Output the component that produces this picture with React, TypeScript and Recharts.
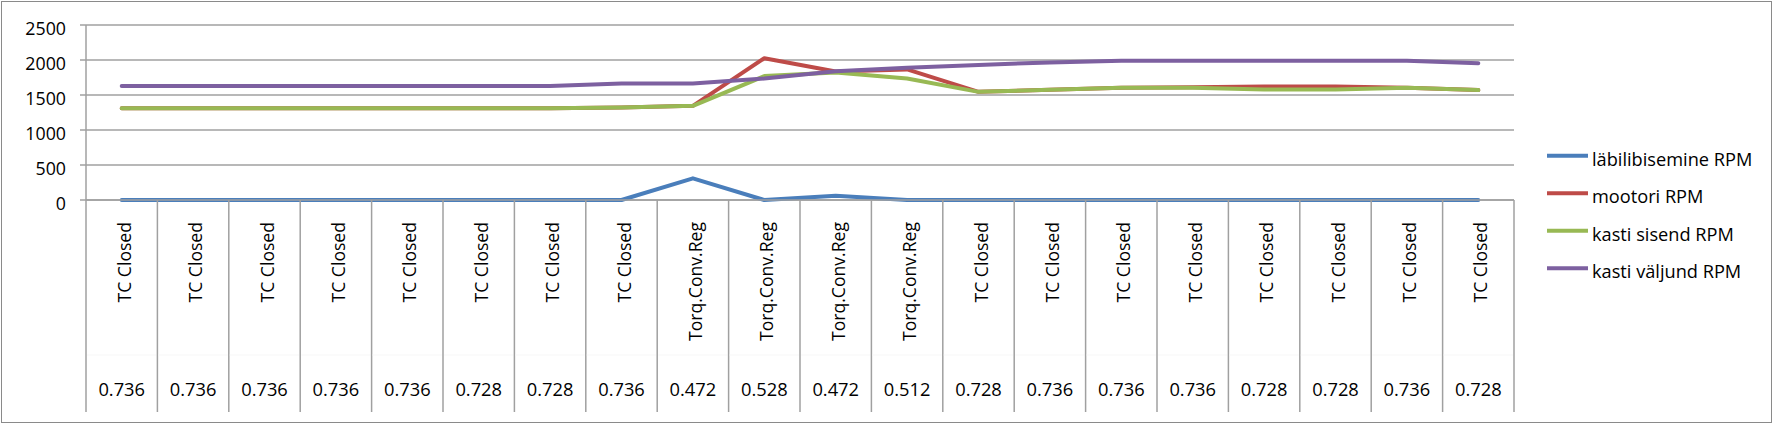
import React from 'react';
import { LineChart, Line, XAxis, YAxis, CartesianGrid, Legend } from 'recharts';

const indices = [0, 1, 2, 3, 4, 5, 6, 7, 8, 9, 10, 11, 12, 13, 14, 15, 16, 17, 18, 19];
const modeLabels = [
  'TC Closed', 'TC Closed', 'TC Closed', 'TC Closed', 'TC Closed', 'TC Closed', 'TC Closed', 'TC Closed',
  'Torq.Conv.Reg', 'Torq.Conv.Reg', 'Torq.Conv.Reg', 'Torq.Conv.Reg',
  'TC Closed', 'TC Closed', 'TC Closed', 'TC Closed', 'TC Closed', 'TC Closed', 'TC Closed', 'TC Closed',
];
const ratioLabels = [
  '0.736', '0.736', '0.736', '0.736', '0.736', '0.728', '0.728', '0.736', '0.472', '0.528',
  '0.472', '0.512', '0.728', '0.736', '0.736', '0.736', '0.728', '0.728', '0.736', '0.728',
];
const labiRpm = [0, 0, 0, 0, 0, 0, 0, 0, 310, 0, 60, 0, 0, 0, 0, 0, 0, 0, 0, 0];
const mootoriRpm = [1310, 1310, 1310, 1310, 1310, 1310, 1310, 1320, 1345, 2025, 1835, 1865, 1545, 1575, 1605, 1610, 1620, 1620, 1605, 1570];
const kastiSisendRpm = [1310, 1310, 1310, 1310, 1310, 1310, 1310, 1320, 1345, 1770, 1820, 1735, 1545, 1575, 1605, 1605, 1580, 1580, 1605, 1570];
const kastiValjundRpm = [1630, 1630, 1630, 1630, 1630, 1630, 1630, 1665, 1665, 1735, 1840, 1890, 1930, 1965, 1990, 1990, 1990, 1990, 1990, 1955];
const yTicks = [0, 500, 1000, 1500, 2000, 2500];
const seriesKeys = ['labi', 'mootori', 'sisend', 'valjund'];
const seriesNames = ['läbilibisemine RPM', 'mootori RPM', 'kasti sisend RPM', 'kasti väljund RPM'];
const seriesColors = ['#4a7ebb', '#be4b48', '#98b954', '#7d60a0'];

const data = indices.map((i) => ({
  idx: i,
  labi: labiRpm[i],
  mootori: mootoriRpm[i],
  sisend: kastiSisendRpm[i],
  valjund: kastiValjundRpm[i],
}));

const W = 1776;
const H = 425;
const PLOT_LEFT = 86;
const PLOT_RIGHT = 1514;
const PLOT_TOP = 25;
const PLOT_BOTTOM = 200;
const BAND = (PLOT_RIGHT - PLOT_LEFT) / indices.length;
const X_AXIS_H = 215;
const LEGEND_W = 230;
const GRID = '#a0a0a0';
const FONT = "'Open Sans', 'Noto Sans', sans-serif";

const XTick = (props: any) => {
  const { x, y, payload } = props;
  const i = Number(payload.value);
  const half = BAND / 2;
  return (
    <g>
      <line x1={x - half} x2={x - half} y1={y} y2={y + 212} stroke={GRID} strokeWidth={1.5} />
      {i === indices.length - 1 && (
        <line x1={x + half} x2={x + half} y1={y} y2={y + 212} stroke={GRID} strokeWidth={1.5} />
      )}
      <line x1={x - half + 1} x2={x + half - 1} y1={y + 155} y2={y + 155} stroke="#f7f7f7" strokeWidth={1} />
      <text
        transform={`translate(${x + 9},${y + 22}) rotate(-90)`}
        textAnchor="end"
        fontSize={17.6}
        fontFamily={FONT}
        fill="#000"
      >
        {modeLabels[i]}
      </text>
      <text x={x} y={y + 196} textAnchor="middle" fontSize={18.3} fontFamily={FONT} fill="#000">
        {ratioLabels[i]}
      </text>
    </g>
  );
};

const YTick = (props: any) => {
  const { x, y, payload } = props;
  return (
    <text x={x} y={y + 10} textAnchor="end" fontSize={17.8} fontFamily={FONT} fill="#000">
      {payload.value}
    </text>
  );
};

const LegendContent = () => (
  <svg width={LEGEND_W} height={150}>
    {seriesNames.map((name, k) => (
      <g key={name}>
        <line x1={7} x2={48} y1={15.7 + k * 37.5} y2={15.7 + k * 37.5} stroke={seriesColors[k]} strokeWidth={4} />
        <text x={52} y={25.7 + k * 37.5} fontSize={18.2} fontFamily={FONT} fill="#000">
          {name}
        </text>
      </g>
    ))}
  </svg>
);

export default function App() {
  return (
    <div style={{ position: 'absolute', left: 0, top: 0, width: W, height: H, background: '#fff' }}>
      <div
        style={{
          position: 'absolute',
          left: 1,
          top: 1,
          width: 1771,
          height: 422,
          border: '1.5px solid #8a8a8a',
          boxSizing: 'border-box',
        }}
      />
      <div style={{ position: 'absolute', left: 0, top: 0 }}>
        <LineChart
          width={W}
          height={H}
          data={data}
          margin={{ top: PLOT_TOP, left: 0, right: W - PLOT_RIGHT - LEGEND_W, bottom: H - PLOT_BOTTOM - X_AXIS_H }}
        >
          <CartesianGrid horizontal vertical={false} stroke={GRID} strokeWidth={1.5} />
          <XAxis
            dataKey="idx"
            type="category"
            interval={0}
            height={X_AXIS_H}
            padding={{ left: BAND / 2, right: BAND / 2 }}
            tickLine={false}
            tickSize={0}
            tickMargin={0}
            axisLine={{ stroke: GRID, strokeWidth: 1.5 }}
            tick={<XTick />}
          />
          <YAxis
            width={PLOT_LEFT}
            domain={[0, 2500]}
            ticks={yTicks}
            interval={0}
            tickSize={6}
            tickMargin={14}
            tickLine={{ stroke: GRID, strokeWidth: 1.5 }}
            axisLine={{ stroke: GRID, strokeWidth: 1.5 }}
            tick={<YTick />}
          />
          <Legend
            layout="vertical"
            align="right"
            verticalAlign="top"
            wrapperStyle={{ left: 1540, top: 140, width: LEGEND_W, height: 150 }}
            content={<LegendContent />}
          />
          {seriesKeys.map((k, n) => (
            <Line
              key={k}
              type="linear"
              dataKey={k}
              name={seriesNames[n]}
              stroke={seriesColors[n]}
              strokeWidth={4}
              strokeLinejoin="round"
              strokeLinecap="round"
              dot={false}
              activeDot={false}
              isAnimationActive={false}
            />
          ))}
        </LineChart>
      </div>
    </div>
  );
}
